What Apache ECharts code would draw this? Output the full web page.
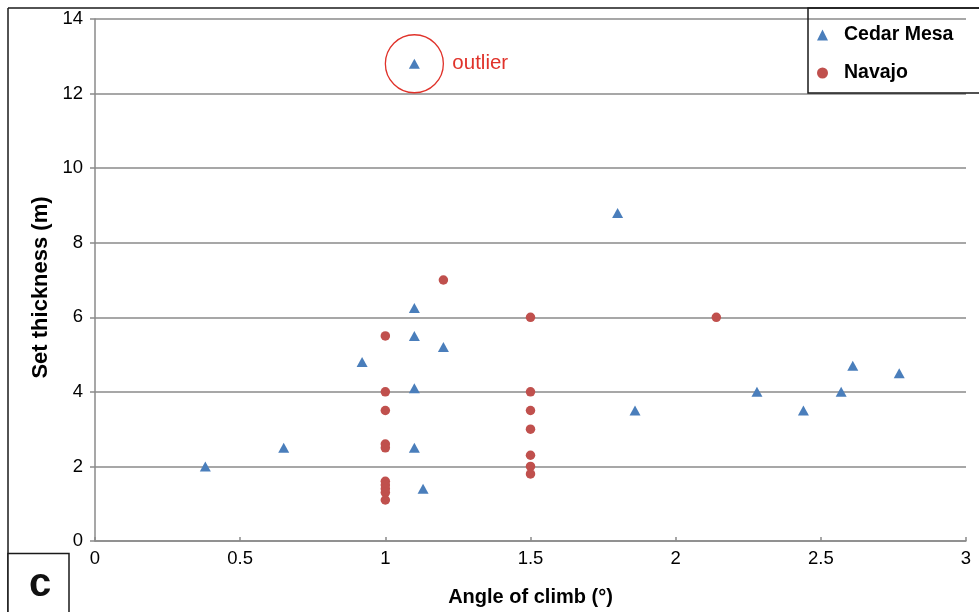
<!DOCTYPE html>
<html>
<head>
<meta charset="utf-8">
<script src="https://cdn.jsdelivr.net/npm/echarts@6/dist/echarts.min.js"></script>
<style>
html,body{margin:0;padding:0;background:#fff;}
#chart{width:979px;height:612px;}
</style>
</head>
<body>
<div id="chart"></div>
<script>
// Cedar Mesa: [angle of climb (deg), set thickness (m)]
const cedarMesa = [
  [0.38, 2.0], [0.65, 2.5], [0.92, 4.8], [1.1, 6.25], [1.1, 5.5], [1.1, 4.1],
  [1.1, 2.5], [1.13, 1.4], [1.2, 5.2], [1.1, 12.8], [1.8, 8.8], [1.86, 3.5],
  [2.28, 4.0], [2.44, 3.5], [2.57, 4.0], [2.61, 4.7], [2.77, 4.5]
];
// Navajo
const navajo = [
  [1.0, 5.5], [1.0, 4.0], [1.0, 3.5], [1.0, 2.6], [1.0, 2.5], [1.0, 1.6],
  [1.0, 1.5], [1.0, 1.4], [1.0, 1.3], [1.0, 1.1], [1.2, 7.0],
  [1.5, 6.0], [1.5, 4.0], [1.5, 3.5], [1.5, 3.0], [1.5, 2.3], [1.5, 2.0], [1.5, 1.8],
  [2.14, 6.0]
];
const outlierPoint = [1.1, 12.8];
const xTickLabels = ['0', '0.5', '1', '1.5', '2', '2.5', '3'];
const yTickLabels = ['0', '2', '4', '6', '8', '10', '12', '14'];
const seriesNames = ['Cedar Mesa', 'Navajo'];

const FONT = '"Liberation Sans", Arial, sans-serif';
const GRID = '#8a8a8a';
const chart = echarts.init(document.getElementById('chart'), null, {renderer: 'canvas'});

chart.setOption({
  animation: false,
  backgroundColor: '#fff',
  grid: {left: 95, right: 13, top: 19, bottom: 68, containLabel: false},
  xAxis: {
    type: 'value', min: 0, max: 3, interval: 0.5,
    name: 'Angle of climb (°)', nameLocation: 'middle', nameGap: 46,
    nameTextStyle: {fontFamily: FONT, fontWeight: 'bold', fontSize: 20, color: '#000'},
    axisLine: {show: true, lineStyle: {color: GRID, width: 1.5}},
    axisTick: {show: true, inside: true, length: 4, lineStyle: {color: GRID, width: 1.5}},
    axisLabel: {
      margin: 8, fontFamily: FONT, fontSize: 18.5, color: '#000',
      formatter: v => xTickLabels[Math.round(v / 0.5)]
    },
    splitLine: {show: false}
  },
  yAxis: {
    type: 'value', min: 0, max: 14, interval: 2,
    name: 'Set thickness (m)', nameLocation: 'middle', nameGap: 43, nameRotate: 90,
    nameTextStyle: {fontFamily: FONT, fontWeight: 'bold', fontSize: 22, color: '#000', padding: [0, 15, 0, 0]},
    axisLine: {show: true, lineStyle: {color: GRID, width: 1.5}},
    axisTick: {show: true, inside: false, length: 5, lineStyle: {color: GRID, width: 1.5}},
    axisLabel: {
      margin: 12, fontFamily: FONT, fontSize: 18.5, color: '#000',
      formatter: v => yTickLabels[Math.round(v / 2)]
    },
    splitLine: {show: true, lineStyle: {color: GRID, width: 1.5}}
  },
  legend: {
    orient: 'vertical', left: 817, top: 25, padding: 0, itemGap: 18,
    itemWidth: 11, itemHeight: 11,
    data: [{name: seriesNames[0], icon: 'triangle'}, {name: seriesNames[1], icon: 'circle'}],
    textStyle: {fontFamily: FONT, fontWeight: 'bold', fontSize: 19.5, color: '#000', lineHeight: 20, padding: [0, 0, 0, 11]}
  },
  series: [
    {
      name: seriesNames[0], type: 'scatter', symbol: 'triangle', symbolSize: [11, 10],
      itemStyle: {color: '#4a7ebb', opacity: 1}, data: cedarMesa, z: 3
    },
    {
      name: seriesNames[1], type: 'scatter', symbol: 'circle', symbolSize: 9.5,
      itemStyle: {color: '#c0504d', opacity: 1}, data: navajo, z: 3
    }
  ]
});

const op = chart.convertToPixel({gridIndex: 0}, outlierPoint);
chart.setOption({
  graphic: [
    // outer frame (left and top edges)
    {type: 'line', shape: {x1: 8, y1: 8, x2: 8, y2: 612}, style: {stroke: '#1a1a1a', lineWidth: 1.5}, silent: true},
    {type: 'line', shape: {x1: 8, y1: 8, x2: 979, y2: 8}, style: {stroke: '#1a1a1a', lineWidth: 1.5}, silent: true},
    // legend box
    {type: 'rect', shape: {x: 808, y: 8, width: 200, height: 85}, style: {fill: 'none', stroke: '#1a1a1a', lineWidth: 1.5}, silent: true},
    // panel label box
    {type: 'rect', shape: {x: 8, y: 553.5, width: 61, height: 80}, style: {fill: '#fff', stroke: '#1a1a1a', lineWidth: 1.5}, silent: true, z: 10},
    {type: 'text', x: 40, y: 585, style: {text: 'c', font: 'bold 40px ' + FONT, fill: '#111', align: 'center', verticalAlign: 'middle'}, silent: true, z: 11},
    // outlier annotation
    {type: 'circle', shape: {cx: op[0], cy: op[1], r: 29}, style: {fill: 'none', stroke: '#e0322a', lineWidth: 1.3}, silent: true, z: 5},
    {type: 'text', x: op[0] + 38, y: op[1], style: {text: 'outlier', font: '20.5px ' + FONT, fill: '#e0322a', align: 'left', verticalAlign: 'middle'}, silent: true, z: 5}
  ]
});
</script>
</body>
</html>
